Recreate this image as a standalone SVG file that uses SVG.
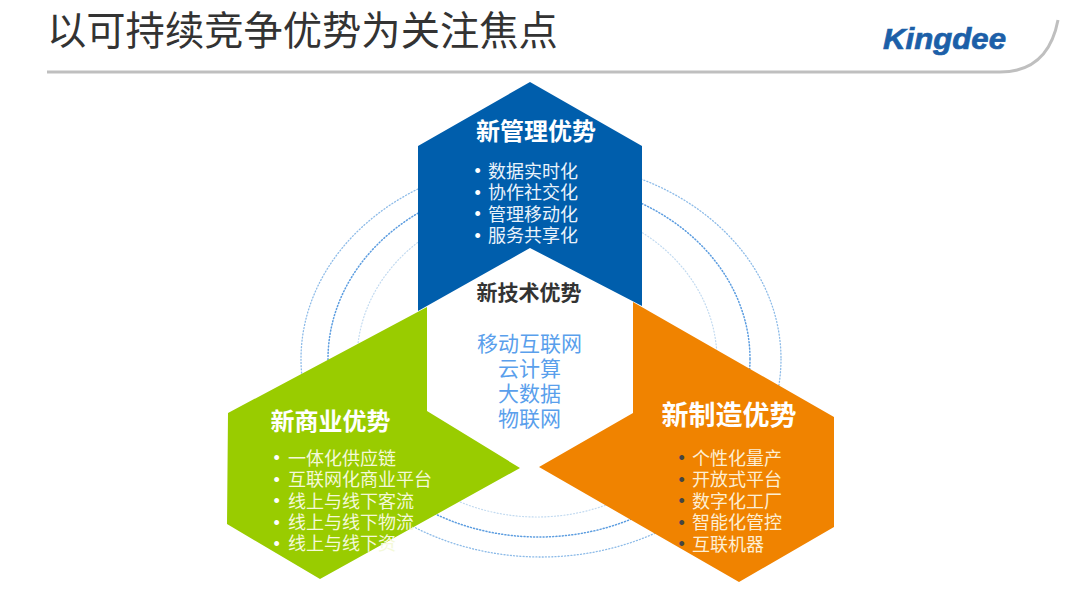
<svg xmlns="http://www.w3.org/2000/svg" width="1080" height="599" viewBox="0 0 1080 599">
<style>
text{font-family:"Noto Sans CJK SC","Noto Sans",sans-serif}
.title{font-size:39.3px;fill:#333}
.logo{font-family:"Liberation Sans",Arial,sans-serif;font-size:30px;font-weight:700;font-style:italic;fill:#1c5fa8;stroke:#1c5fa8;stroke-width:.7}
.ring{fill:none;stroke-linecap:round}
.h{font-weight:700;fill:#fff;text-anchor:middle}
.l{font-size:18px}
.b{font-family:"Liberation Sans",Arial,sans-serif;font-size:18px}
.c{font-size:21px;fill:#5a9fec;text-anchor:middle}
</style>
<rect width="1080" height="599" fill="#fff"/>
<g id="header">
<text class="title" x="47" y="45">以可持续竞争优势为关注焦点</text>
<path d="M47 72H1000Q1048 72 1058 20" fill="none" stroke="#bfbfbf" stroke-width="3"/>
<text class="logo" x="883" y="48.500" textLength="123" lengthAdjust="spacingAndGlyphs">Kingdee</text>
</g>
<g id="rings">
<ellipse class="ring" cx="541" cy="359" rx="240" ry="198" stroke="#8dbbe8" stroke-width="1.3" stroke-dasharray="1 2.2"/>
<ellipse class="ring" cx="539" cy="359" rx="211" ry="178" stroke="#5c9de0" stroke-width="1.5" stroke-dasharray="1 2.2"/>
<ellipse class="ring" cx="537" cy="360" rx="180" ry="157" stroke="#c2daf0" stroke-width="1.2" stroke-dasharray="1 2.2"/>
</g>
<g id="node-commerce">
<polygon points="427,307 427,411 520,468 320,579 227,524 228,413" fill="#99cc00"/>
</g>
<g id="node-management">
<polygon points="530,82 642,146 642,306 530,248 418,311 418,146" fill="#005eac"/>
<text class="h" x="536" y="140" font-size="24">新管理优势</text>
<g class="l" fill="#eaf3fb">
<text class="b" x="474.500" y="177" fill="#fff">•</text><text x="488" y="177.500">数据实时化</text>
<text class="b" x="474.500" y="198.500" fill="#fff">•</text><text x="488" y="199">协作社交化</text>
<text class="b" x="474.500" y="220" fill="#fff">•</text><text x="488" y="220.500">管理移动化</text>
<text class="b" x="474.500" y="241.500" fill="#fff">•</text><text x="488" y="242">服务共享化</text>
</g>
</g>
<g id="node-manufacturing">
<polygon points="633,302 834,417 834,527 739,582 539,467 633,413" fill="#f08300"/>
<text class="h" x="729" y="425" font-size="27">新制造优势</text>
<g class="l" fill="#fdeed3">
<text class="b" x="678.500" y="464" fill="#444">•</text><text x="692" y="464.500">个性化量产</text>
<text class="b" x="678.500" y="485.500" fill="#444">•</text><text x="692" y="486">开放式平台</text>
<text class="b" x="678.500" y="507" fill="#444">•</text><text x="692" y="507.500">数字化工厂</text>
<text class="b" x="678.500" y="528.500" fill="#444">•</text><text x="692" y="529">智能化管控</text>
<text class="b" x="678.500" y="550" fill="#444">•</text><text x="692" y="550.500">互联机器</text>
</g>
</g>
<g id="node-commerce-text">
<text class="h" x="330.500" y="430" font-size="24">新商业优势</text>
<g class="l" fill="#f4f9d8">
<text class="b" x="273.500" y="464" fill="#fff">•</text><text x="288" y="464.500">一体化供应链</text>
<text class="b" x="273.500" y="485.500" fill="#fff">•</text><text x="288" y="486">互联网化商业平台</text>
<text class="b" x="273.500" y="507" fill="#fff">•</text><text x="288" y="507.500">线上与线下客流</text>
<text class="b" x="273.500" y="528.500" fill="#fff">•</text><text x="288" y="529">线上与线下物流</text>
<text class="b" x="273.500" y="550" fill="#fff">•</text><text x="288" y="550">线上与线下资</text>
</g>
</g>
<g id="node-technology">
<text x="529" y="300" font-size="21" font-weight="700" fill="#333" text-anchor="middle">新技术优势</text>
<text class="c" x="529.500" y="351">移动互联网</text>
<text class="c" x="529.500" y="376">云计算</text>
<text class="c" x="529.500" y="401">大数据</text>
<text class="c" x="529.500" y="426">物联网</text>
</g>
<g id="connectors"></g>
</svg>
